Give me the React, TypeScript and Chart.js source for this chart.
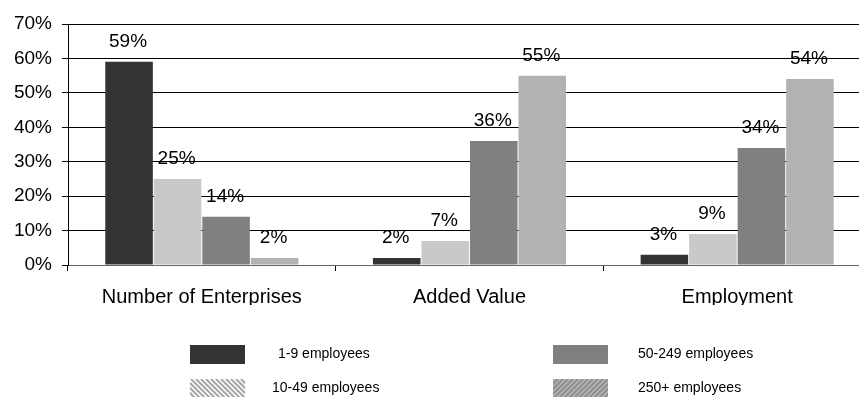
import React, { useEffect, useRef } from 'react';
import { Chart, registerables } from 'chart.js';

Chart.register(...registerables);

const categories = ['Number of Enterprises', 'Added Value', 'Employment'];
const seriesLabels = ['1-9 employees', '10-49 employees', '50-249 employees', '250+ employees'];
const micro = [59, 2, 3];
const small = [25, 7, 9];
const medium = [14, 36, 34];
const large = [2, 55, 54];
const seriesColors = ['#333333', '#c9c9c9', '#808080', '#b2b2b2'];
const yMin = 0;
const yMax = 70;
const yStep = 10;

const FONT = "Arial, 'Liberation Sans', sans-serif";

const dataLabelPlugin = {
  id: 'dataLabels',
  afterDatasetsDraw(chart: any) {
    const ctx = chart.ctx;
    ctx.save();
    ctx.font = `19px ${FONT}`;
    ctx.fillStyle = '#000';
    ctx.textAlign = 'center';
    ctx.textBaseline = 'alphabetic';
    chart.data.datasets.forEach((ds: any, i: number) => {
      const meta = chart.getDatasetMeta(i);
      meta.data.forEach((bar: any, j: number) => {
        ctx.fillText(ds.data[j] + '%', bar.x - 1, bar.y - 15);
      });
    });
    ctx.restore();
  },
};

function drawStripes(ctx: any, x: number, y: number, w: number, h: number, bg: string, fg: string, dir: number) {
  ctx.save();
  ctx.beginPath();
  ctx.rect(x, y, w, h);
  ctx.clip();
  ctx.fillStyle = bg;
  ctx.fillRect(x, y, w, h);
  ctx.strokeStyle = fg;
  ctx.lineWidth = 2;
  for (let k = -h - 10; k < w + h + 10; k += 5) {
    ctx.beginPath();
    if (dir > 0) {
      ctx.moveTo(x + k, y + h);
      ctx.lineTo(x + k + h, y);
    } else {
      ctx.moveTo(x + k, y);
      ctx.lineTo(x + k + h, y + h);
    }
    ctx.stroke();
  }
  ctx.restore();
}

const legendPlugin = {
  id: 'customLegend',
  afterDraw(chart: any) {
    const ctx = chart.ctx;
    const labels = chart.data.datasets.map((d: any) => d.label);
    const slots = [
      { sx: 190, sy: 345, tx: 278, ty: 354, kind: 'solid' },
      { sx: 190, sy: 379, tx: 272, ty: 388, kind: 'back' },
      { sx: 553, sy: 345, tx: 638, ty: 354, kind: 'solid' },
      { sx: 553, sy: 379, tx: 638, ty: 388, kind: 'fwd' },
    ];
    ctx.save();
    slots.forEach((s, i) => {
      const w = 55;
      const h = 19;
      if (s.kind === 'solid') {
        ctx.fillStyle = chart.data.datasets[i].backgroundColor;
        ctx.fillRect(s.sx, s.sy, w, h);
      } else if (s.kind === 'back') {
        drawStripes(ctx, s.sx, s.sy, w, h, '#ffffff', '#a6a6a6', -1);
      } else {
        drawStripes(ctx, s.sx, s.sy, w, h, '#b8b8b8', '#8e8e8e', 1);
      }
      ctx.font = `14px ${FONT}`;
      ctx.fillStyle = '#000';
      ctx.textAlign = 'left';
      ctx.textBaseline = 'middle';
      ctx.fillText(labels[i], s.tx, s.ty);
    });
    ctx.restore();
  },
};

export default function App() {
  const canvasRef = useRef<HTMLCanvasElement | null>(null);

  useEffect(() => {
    if (!canvasRef.current) return;
    Chart.defaults.font.family = FONT;
    const series = [micro, small, medium, large];
    const chart = new Chart(canvasRef.current, {
      type: 'bar',
      data: {
        labels: categories,
        datasets: series.map((d, i) => ({
          label: seriesLabels[i],
          data: d,
          backgroundColor: seriesColors[i],
          borderWidth: 0,
          categoryPercentage: 0.725,
          barPercentage: 0.98,
        })),
      },
      options: {
        animation: false,
        responsive: true,
        maintainAspectRatio: false,
        layout: { padding: { top: 24, left: 0, right: 0, bottom: 92 } },
        plugins: {
          legend: { display: false },
          tooltip: { enabled: false },
        },
        scales: {
          x: {
            grid: {
              display: true,
              drawOnChartArea: false,
              offset: true,
              tickLength: 6,
              color: '#000',
              lineWidth: 1,
            },
            border: { display: true, color: '#666666' },
            ticks: {
              font: { size: 20, family: FONT },
              color: '#000',
              padding: 14,
              maxRotation: 0,
              autoSkip: false,
            },
            afterFit: (s: any) => {
              s.height = 40;
            },
          },
          y: {
            min: yMin,
            max: yMax,
            ticks: {
              stepSize: yStep,
              callback: (v: any) => v + '%',
              font: { size: 19, family: FONT },
              color: '#000',
              padding: 10,
            },
            grid: { color: '#000', tickLength: 6, lineWidth: 1 },
            border: { display: true, color: '#000' },
            afterFit: (s: any) => {
              s.width = 68;
            },
          },
        },
      },
      plugins: [dataLabelPlugin, legendPlugin],
    } as any);
    return () => chart.destroy();
  }, []);

  return (
    <div
      style={{
        position: 'fixed',
        left: 0,
        top: 0,
        width: 859,
        height: 397,
        overflow: 'hidden',
        background: '#fff',
      }}
    >
      <div style={{ position: 'relative', width: 871, height: 397 }}>
        <canvas ref={canvasRef} />
      </div>
    </div>
  );
}
